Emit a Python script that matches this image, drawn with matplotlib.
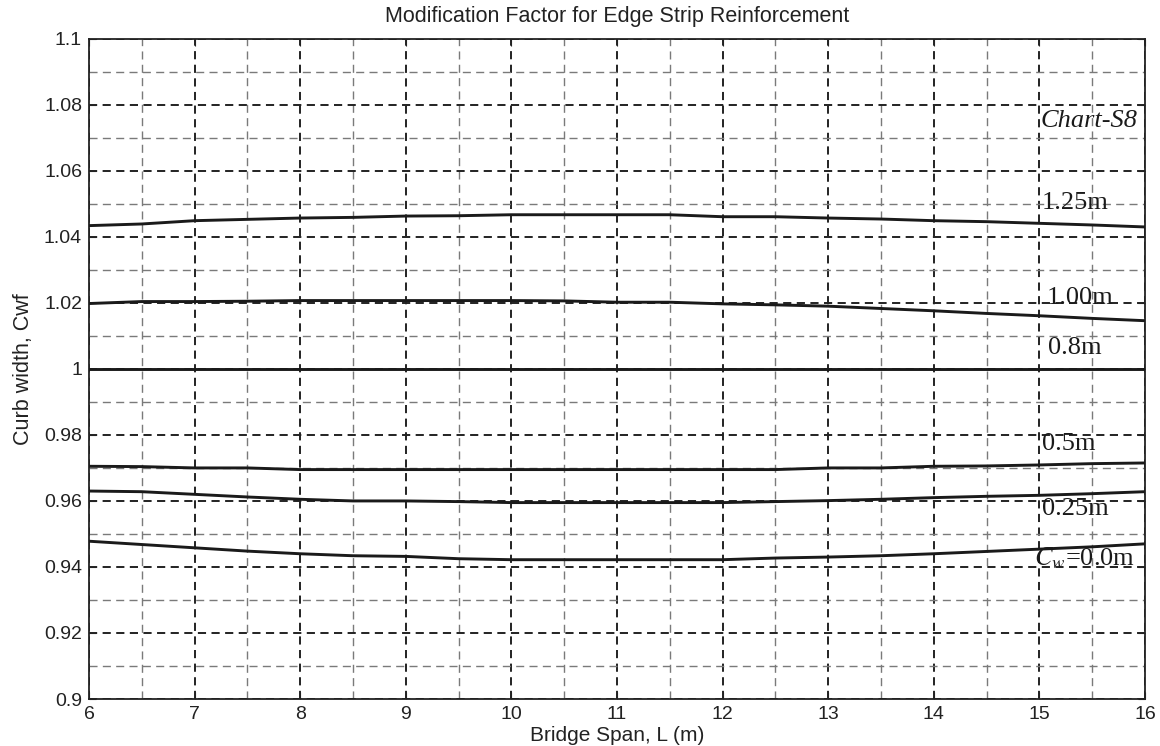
import matplotlib.pyplot as plt
from matplotlib.ticker import MultipleLocator

plt.rcParams['font.family'] = ['Liberation Sans', 'DejaVu Sans']
plt.rcParams['mathtext.fontset'] = 'stix'

# Bridge span (m) and modification factor for each curb width
span = [6, 6.5, 7, 7.5, 8, 8.5, 9, 9.5, 10, 10.5, 11,
        11.5, 12, 12.5, 13, 13.5, 14, 14.5, 15, 15.5, 16]
cw_125 = [1.0434, 1.0439, 1.0449, 1.0453, 1.0457, 1.0459, 1.0463, 1.0464, 1.0467, 1.0467, 1.0467,
          1.0467, 1.0461, 1.0461, 1.0457, 1.0454, 1.0449, 1.0446, 1.0441, 1.0436, 1.0430]
cw_100 = [1.0198, 1.0204, 1.0204, 1.0205, 1.0207, 1.0207, 1.0207, 1.0207, 1.0207, 1.0206, 1.0202,
          1.0202, 1.0197, 1.0194, 1.0190, 1.0183, 1.0176, 1.0168, 1.0161, 1.0153, 1.0146]
cw_080 = [1.0] * 21
cw_050 = [0.9705, 0.9704, 0.9700, 0.9700, 0.9695, 0.9695, 0.9695, 0.9695, 0.9695, 0.9695, 0.9695,
          0.9695, 0.9695, 0.9695, 0.9700, 0.9700, 0.9705, 0.9706, 0.9709, 0.9713, 0.9715]
cw_025 = [0.9630, 0.9628, 0.9620, 0.9612, 0.9605, 0.9600, 0.9600, 0.9598, 0.9595, 0.9595, 0.9595,
          0.9595, 0.9595, 0.9598, 0.9601, 0.9605, 0.9610, 0.9614, 0.9617, 0.9622, 0.9628]
cw_000 = [0.9478, 0.9468, 0.9458, 0.9448, 0.9440, 0.9434, 0.9432, 0.9425, 0.9422, 0.9422, 0.9422,
          0.9422, 0.9422, 0.9427, 0.9430, 0.9434, 0.9440, 0.9447, 0.9454, 0.9461, 0.9470]

curves = [cw_125, cw_100, cw_080, cw_050, cw_025, cw_000]
labels = ['1.25m', '1.00m', '0.8m', '0.5m', '0.25m', r'$C_w$=0.0m']
label_pos = [(15.02, 1.0502), (15.07, 1.0216), (15.08, 1.0063),
             (15.03, 0.9771), (15.03, 0.9576), (14.95, 0.9426)]

fig = plt.figure(figsize=(11.6, 7.46), dpi=100)
ax = fig.add_axes([0.0767, 0.063, 0.9103, 0.885])

for vals in curves:
    ax.plot(span, vals, color='#1a1a1a', linewidth=2.1, zorder=3)

for text, (lx, ly) in zip(labels, label_pos):
    ax.text(lx, ly, text, fontsize=19, family=['Liberation Serif', 'DejaVu Serif'],
            va='center', ha='left', color='#1a1a1a', zorder=4)

ax.text(15.47, 1.0752, 'Chart-S8', fontsize=19, style='italic',
        family=['Liberation Serif', 'DejaVu Serif'], va='center', ha='center', color='#1a1a1a')

ax.set_xlim(6, 16)
ax.set_ylim(0.9, 1.1)
ax.xaxis.set_major_locator(MultipleLocator(1))
ax.xaxis.set_minor_locator(MultipleLocator(0.5))
ax.yaxis.set_major_locator(MultipleLocator(0.02))
ax.yaxis.set_minor_locator(MultipleLocator(0.01))
ax.set_yticks([0.9, 0.92, 0.94, 0.96, 0.98, 1.0, 1.02, 1.04, 1.06, 1.08, 1.1])
ax.set_yticklabels(['0.9', '0.92', '0.94', '0.96', '0.98', '1', '1.02', '1.04', '1.06', '1.08', '1.1'])

# MATLAB-like dashed grid: darker major, lighter minor
ax.grid(which='major', color='#222222', linewidth=1.4, linestyle=(0, (4.2, 2.8)))
ax.grid(which='minor', color='#7a7a7a', linewidth=1.0, linestyle=(0, (5.8, 3.8)))

ax.tick_params(which='major', direction='in', length=5, top=True, right=True,
               labelsize=14, pad=5, colors='#222222')
ax.tick_params(which='minor', length=0)
for sp in ax.spines.values():
    sp.set_linewidth(1.3)
    sp.set_color('#222222')

ax.set_title('Modification Factor for Edge Strip Reinforcement', fontsize=15.5,
             color='#222222', pad=12)
ax.set_xlabel('Bridge Span, L (m)', fontsize=15, color='#222222', labelpad=2)
ax.set_ylabel('Curb width, Cwf', fontsize=15.5, color='#222222', labelpad=7)

fig.savefig('out.png', dpi=100)
